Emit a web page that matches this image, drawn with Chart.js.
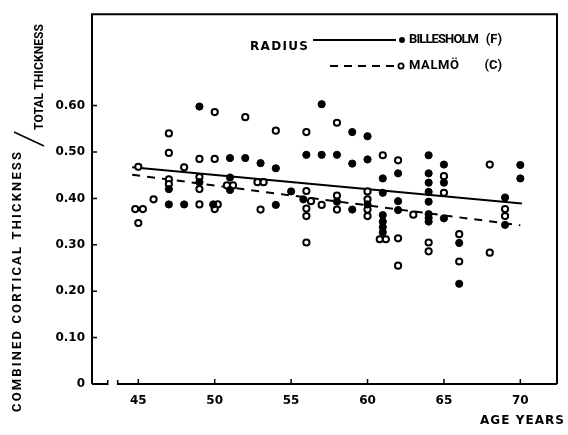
<!DOCTYPE html>
<html>
<head>
<meta charset="utf-8">
<script src="https://cdn.jsdelivr.net/npm/chart.js"></script>
<style>
    html, body { margin: 0; padding: 0; background: #fff; }
    #wrap { width: 568px; height: 435px; }
</style>
</head>
<body>
<div id="wrap"><canvas id="radiusChart"></canvas></div>
<script>
// Billesholm (F), filled dots
const billesholmAge = [49, 51, 52, 47, 49, 51, 51, 47, 48, 49.9,
    57, 59, 60, 53, 54, 56, 57, 58, 59, 60,
    61, 61, 55, 55.8, 54, 58, 59, 60, 61, 61,
    61, 61, 62, 62, 62, 64, 64, 64, 64, 64,
    64, 64, 64, 65, 65, 65, 66, 66, 69, 69,
    70, 70];
const billesholmRatio = [0.598, 0.487, 0.487, 0.42, 0.435, 0.445, 0.418, 0.387, 0.387, 0.387,
    0.603, 0.543, 0.534, 0.476, 0.465, 0.494, 0.494, 0.494, 0.475, 0.484,
    0.443, 0.412, 0.415, 0.398, 0.386, 0.393, 0.376, 0.387, 0.364, 0.35,
    0.338, 0.327, 0.454, 0.394, 0.375, 0.493, 0.454, 0.434, 0.414, 0.393,
    0.366, 0.358, 0.35, 0.473, 0.434, 0.357, 0.304, 0.216, 0.402, 0.343,
    0.472, 0.443];

// Malmö (C), open circles
const malmoAge = [50, 52, 47, 47, 49, 50, 45, 48, 47, 47,
    49, 49, 50.8, 51.2, 46, 49, 50.2, 50, 44.8, 45.3,
    45, 54, 56, 58, 61, 52.8, 53.2, 56, 56.3, 56,
    56, 56, 53, 57, 58, 58, 60, 60, 60, 60,
    60.8, 61.2, 62, 62, 62, 63, 64, 64, 65, 65,
    66, 66, 68, 68, 69, 69];
const malmoRatio = [0.586, 0.575, 0.54, 0.498, 0.485, 0.485, 0.468, 0.467, 0.441, 0.431,
    0.446, 0.42, 0.428, 0.428, 0.398, 0.387, 0.387, 0.377, 0.377, 0.377,
    0.347, 0.546, 0.543, 0.563, 0.493, 0.435, 0.435, 0.416, 0.394, 0.378,
    0.362, 0.305, 0.376, 0.386, 0.406, 0.376, 0.415, 0.398, 0.376, 0.362,
    0.312, 0.312, 0.482, 0.314, 0.255, 0.365, 0.305, 0.286, 0.448, 0.412,
    0.323, 0.264, 0.473, 0.283, 0.377, 0.362];

// regression lines (end points)
const billesholmFitAge = [44.6, 70.1];
const billesholmFitRatio = [0.467, 0.389];
const malmoFitAge = [44.6, 70.0];
const malmoFitRatio = [0.451, 0.342];

const xTicks = [45, 50, 55, 60, 65, 70];
const yTicks = [0, 0.1, 0.2, 0.3, 0.4, 0.5, 0.6];
const yTickLabels = ['0', '0.10', '0.20', '0.30', '0.40', '0.50', '0.60'];
const xBreak = [43.0, 43.65];

const FONT = '"DejaVu Sans", sans-serif';
const FONT_NARROW = 'Roboto, "DejaVu Sans", sans-serif';

function toPoints(xs, ys) {
    return xs.map((x, i) => ({ x: x, y: ys[i] }));
}

// text spread to a given width
function fitText(ctx, text, x, y, width) {
    ctx.letterSpacing = '0px';
    const w = ctx.measureText(text).width;
    const gap = (width - w) / Math.max(text.length - 1, 1);
    ctx.letterSpacing = gap + 'px';
    ctx.fillText(text, x, y);
    ctx.letterSpacing = '0px';
}

const framePlugin = {
    id: 'frame',
    afterDraw(chart) {
        const { ctx, chartArea: a, scales } = chart;
        const x = scales.x, y = scales.y;
        ctx.save();
        ctx.strokeStyle = '#000';
        ctx.fillStyle = '#000';
        ctx.lineWidth = 2;
        ctx.setLineDash([]);

        // left, top and right side
        ctx.beginPath();
        ctx.moveTo(a.left, a.bottom);
        ctx.lineTo(a.left, a.top);
        ctx.lineTo(a.right, a.top);
        ctx.lineTo(a.right, a.bottom);
        ctx.stroke();

        // broken x axis
        const b1 = x.getPixelForValue(xBreak[0]);
        const b2 = x.getPixelForValue(xBreak[1]);
        ctx.beginPath();
        ctx.moveTo(a.left, a.bottom);
        ctx.lineTo(b1, a.bottom);
        ctx.moveTo(b2, a.bottom);
        ctx.lineTo(a.right, a.bottom);
        ctx.stroke();
        ctx.lineWidth = 1.5;
        ctx.beginPath();
        ctx.moveTo(b1, a.bottom - 4);
        ctx.lineTo(b1, a.bottom + 1);
        ctx.moveTo(b2, a.bottom - 4);
        ctx.lineTo(b2, a.bottom + 1);
        xTicks.forEach(v => {
            const px = x.getPixelForValue(v);
            ctx.moveTo(px, a.bottom);
            ctx.lineTo(px, a.bottom - 5);
        });
        yTicks.forEach(v => {
            if (v === 0) return;
            const py = y.getPixelForValue(v);
            ctx.moveTo(a.left, py);
            ctx.lineTo(a.left + 5, py);
        });
        ctx.stroke();

        // legend
        ctx.textBaseline = 'middle';
        ctx.textAlign = 'left';
        ctx.font = 'bold 12px ' + FONT;
        fitText(ctx, 'RADIUS', 250, 47, 58);
        ctx.lineWidth = 2;
        ctx.beginPath();
        ctx.moveTo(313, 40);
        ctx.lineTo(396, 40);
        ctx.stroke();
        ctx.beginPath();
        ctx.arc(402, 40, 3, 0, Math.PI * 2);
        ctx.fill();
        ctx.font = 'bold 13px ' + FONT_NARROW;
        fitText(ctx, 'BILLESHOLM', 409, 40, 70);
        ctx.textAlign = 'right';
        ctx.fillText('(F)', 502, 40);

        ctx.lineWidth = 2;
        ctx.setLineDash([8, 6]);
        ctx.beginPath();
        ctx.moveTo(330, 66);
        ctx.lineTo(396, 66);
        ctx.stroke();
        ctx.setLineDash([]);
        ctx.lineWidth = 1.8;
        ctx.beginPath();
        ctx.arc(401, 66, 2.6, 0, Math.PI * 2);
        ctx.stroke();
        ctx.textAlign = 'left';
        fitText(ctx, 'MALMÖ', 409, 66, 50);
        ctx.textAlign = 'right';
        ctx.fillText('(C)', 502, 66);

        // axis titles
        ctx.font = 'bold 12px ' + FONT;
        ctx.textAlign = 'right';
        fitText(ctx, 'AGE YEARS', 565, 421, 84);

        ctx.textAlign = 'left';
        ctx.font = 'bold 13px ' + FONT_NARROW;
        ctx.save();
        ctx.translate(18, 412);
        ctx.rotate(-Math.PI / 2);
        fitText(ctx, 'COMBINED CORTICAL THICKNESS', 0, 0, 260);
        ctx.restore();

        ctx.font = 'bold 12px ' + FONT_NARROW;
        ctx.save();
        ctx.translate(40, 130);
        ctx.rotate(-Math.PI / 2);
        fitText(ctx, 'TOTAL THICKNESS', 0, 0, 106);
        ctx.restore();

        ctx.lineWidth = 1.5;
        ctx.beginPath();
        ctx.moveTo(44, 146);
        ctx.lineTo(14, 132);
        ctx.stroke();

        ctx.restore();
    }
};

function buildChart() {
    const ctx = document.getElementById('radiusChart').getContext('2d');
    return new Chart(ctx, {
        type: 'scatter',
        data: {
            datasets: [{
                label: 'Billesholm (F)',
                data: toPoints(billesholmAge, billesholmRatio),
                pointRadius: 3.6,
                pointBackgroundColor: '#000',
                pointBorderColor: '#000',
                pointBorderWidth: 1,
                order: 1
            }, {
                label: 'Malmö (C)',
                data: toPoints(malmoAge, malmoRatio),
                pointRadius: 3.1,
                pointBackgroundColor: '#fff',
                pointBorderColor: '#000',
                pointBorderWidth: 2,
                order: 1
            }, {
                type: 'line',
                label: 'Billesholm fit',
                data: toPoints(billesholmFitAge, billesholmFitRatio),
                borderColor: '#000',
                borderWidth: 2,
                pointRadius: 0,
                order: 2
            }, {
                type: 'line',
                label: 'Malmö fit',
                data: toPoints(malmoFitAge, malmoFitRatio),
                borderColor: '#000',
                borderWidth: 2,
                borderDash: [8, 7],
                pointRadius: 0,
                order: 2
            }]
        },
        options: {
            responsive: true,
            maintainAspectRatio: false,
            animation: false,
            layout: { padding: { top: 12, right: 11, left: 0, bottom: 0 } },
            plugins: {
                legend: { display: false },
                tooltip: { enabled: false }
            },
            scales: {
                x: {
                    type: 'linear',
                    min: 41.97,
                    max: 72.4,
                    grid: { display: false, drawTicks: false },
                    border: { display: false },
                    afterFit: s => { s.height = 51; },
                    afterBuildTicks: s => { s.ticks = xTicks.map(v => ({ value: v })); },
                    ticks: {
                        padding: 10,
                        color: '#000',
                        font: { family: FONT, size: 12, weight: 'bold' },
                        callback: v => String(v)
                    }
                },
                y: {
                    min: 0,
                    max: 0.797,
                    grid: { display: false, drawTicks: false },
                    border: { display: false },
                    afterFit: s => { s.width = 92; },
                    afterBuildTicks: s => { s.ticks = yTicks.map(v => ({ value: v })); },
                    ticks: {
                        padding: 7,
                        color: '#000',
                        font: { family: FONT, size: 12, weight: 'bold' },
                        callback: (v, i) => yTickLabels[i]
                    }
                }
            }
        },
        plugins: [framePlugin]
    });
}

buildChart();
</script>
</body>
</html>
